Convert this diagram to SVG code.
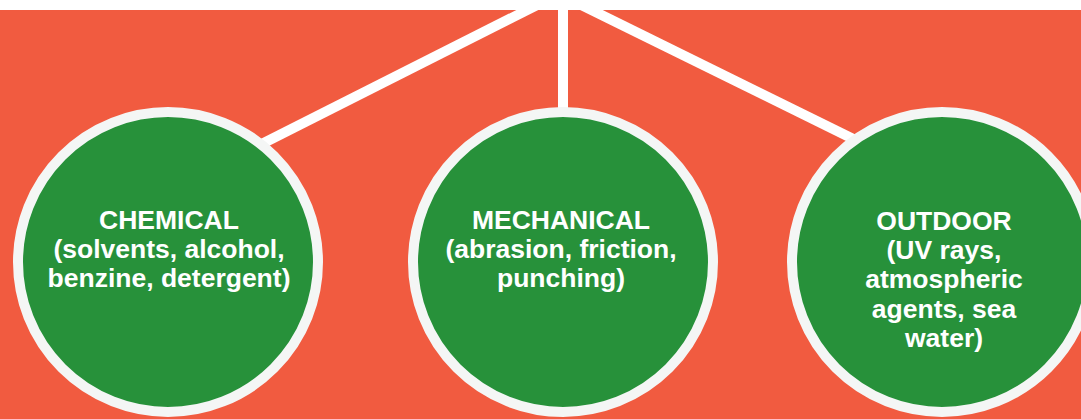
<svg xmlns="http://www.w3.org/2000/svg" width="1081" height="419" viewBox="0 0 1081 419">
  <style>
    .bg { fill: #F15B40; }
    .conn { stroke: #FFFFFF; stroke-width: 10; fill: none; }
    .node circle { fill: #27913A; stroke: #F4F6F5; stroke-width: 10; }
    .node text { fill: #FFFFFF; font-family: "Liberation Sans", Arial, sans-serif; font-weight: bold; font-size: 26.5px; text-anchor: middle; }
  </style>
  <rect x="0" y="0" width="1081" height="419" fill="#FFFFFF"/>
  <rect class="bg" x="0" y="10" width="1081" height="409"/>
  <g id="connectors">
    <line class="conn" x1="563" y1="-8" x2="200" y2="175"/>
    <line class="conn" x1="563" y1="0" x2="563" y2="120"/>
    <line class="conn" x1="563" y1="-4" x2="900" y2="162"/>
  </g>
  <g id="node-chemical" class="node">
    <circle cx="168" cy="262" r="150"/>
    <text x="169" y="229">CHEMICAL</text>
    <text x="169" y="258">(solvents, alcohol,</text>
    <text x="169" y="287">benzine, detergent)</text>
  </g>
  <g id="node-mechanical" class="node">
    <circle cx="563" cy="262" r="150"/>
    <text x="561" y="229">MECHANICAL</text>
    <text x="561" y="258">(abrasion, friction,</text>
    <text x="561" y="287">punching)</text>
  </g>
  <g id="node-outdoor" class="node">
    <circle cx="942" cy="262" r="150"/>
    <text x="944" y="230">OUTDOOR</text>
    <text x="944" y="259">(UV rays,</text>
    <text x="944" y="288">atmospheric</text>
    <text x="944" y="318">agents, sea</text>
    <text x="944" y="347">water)</text>
  </g>
</svg>
